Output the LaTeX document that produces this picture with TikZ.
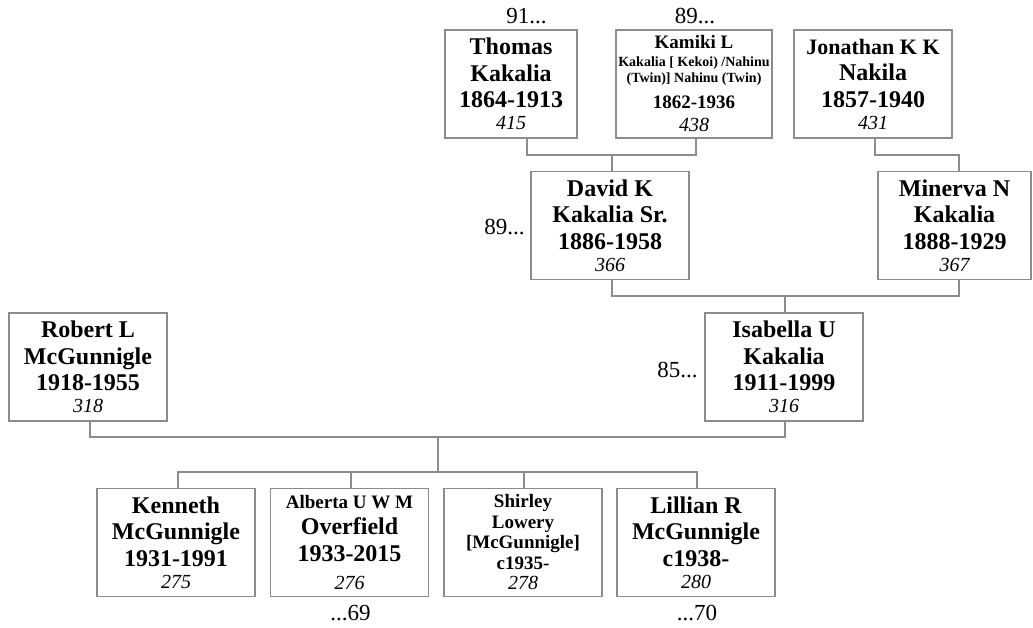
\documentclass[tikz,border=0pt]{standalone}
\usepackage{fontspec}
\setmainfont{Liberation Serif}
\definecolor{linegray}{RGB}{140,140,140}
\lineskiplimit=-100pt
\newcommand\refnum[1]{{\mdseries\itshape\fontsize{20}{22}\selectfont #1}}
\begin{document}
\begin{tikzpicture}[x=1pt,y=-1pt,
  box/.style={draw=linegray, line width=1.3pt, inner sep=0pt, minimum width=#1pt,
    minimum height=108pt, align=center, font=\bfseries\fontsize{24}{26.5}\selectfont},
  box/.default=158,
  conn/.style={draw=linegray, line width=1.3pt},
  lbl/.style={anchor=base, inner sep=0pt, font=\fontsize{23}{26}\selectfont}]
\useasboundingbox (0,0) rectangle (1033,628);

% generation 1
\node[box=132] (thomas) at (511,84) {Thomas\\Kakalia\\1864-1913\\[-4.5pt]\refnum{415}};
\node[box=156, font=\bfseries\fontsize{19}{20}\selectfont] (kamiki) at (694,84)
  {Kamiki L\\[-2pt]{\fontsize{14}{16}\selectfont Kakalia [ Kekoi) /Nahinu}\\[-4pt]{\fontsize{14}{16}\selectfont (Twin)] Nahinu (Twin)}\\[6pt]1862-1936\\[3pt]\refnum{438}};
\node[box] (jonathan) at (873,84) {{\fontsize{22}{26.5}\selectfont Jonathan K K}\\Nakila\\1857-1940\\[-4.5pt]\refnum{431}};

% generation 2
\node[box] (david) at (610,225.5) {David K\\Kakalia Sr.\\1886-1958\\[-4.5pt]\refnum{366}};
\node[box=153] (minerva) at (954.5,225.5) {Minerva N\\Kakalia\\1888-1929\\[-4.5pt]\refnum{367}};

% generation 3
\node[box] (robert) at (88,367) {Robert L\\McGunnigle\\1918-1955\\[-4.5pt]\refnum{318}};
\node[box] (isabella) at (784,367) {Isabella U\\Kakalia\\1911-1999\\[-4.5pt]\refnum{316}};

% generation 4
\node[box] (kenneth) at (176,542.5) {Kenneth\\McGunnigle\\1931-1991\\[-4.5pt]\refnum{275}};
\node[box] (alberta) at (349.5,542.5) {{\fontsize{19}{20}\selectfont Alberta U W M}\\Overfield\\1933-2015\\[1.5pt]\refnum{276}};
\node[box, font=\bfseries\fontsize{19}{20.5}\selectfont] (shirley) at (523,542.5)
  {Shirley\\Lowery\\{[McGunnigle]}\\c1935-\\\refnum{278}};
\node[box] (lillian) at (696,542.5) {Lillian R\\McGunnigle\\c1938-\\[-4.5pt]\refnum{280}};

% continuation labels
\node[lbl] (l91) at (526.5,24) {91...};
\node[lbl] (l89a) at (695,24) {89...};
\node[lbl] (l89b) at (504.5,235) {89...};
\node[lbl] (l85) at (677.5,377) {85...};
\node[lbl] (l69) at (350.5,620) {...69};
\node[lbl] (l70) at (697,620) {...70};

% connectors
\coordinate (tk) at (612,155);
\draw[conn] ([xshift=16pt]thomas.south) |- (tk) -| ([xshift=2pt]kamiki.south);
\draw[conn] (tk) -- (tk |- david.north);
\coordinate (jm) at (959,155);
\draw[conn] ([xshift=2pt]jonathan.south) |- (jm) -- (jm |- minerva.north);
\coordinate (dm) at (785,296);
\draw[conn] ([xshift=2pt]david.south) |- (dm) -| ([xshift=4.5pt]minerva.south);
\draw[conn] (dm) -- (dm |- isabella.north);
\coordinate (ri) at (438,437);
\draw[conn] ([xshift=2pt]robert.south) |- (ri) -| ([xshift=1pt]isabella.south);
\coordinate (cb) at (438,472);
\draw[conn] (ri) -- (cb);
\draw[conn] ([xshift=2pt]kenneth.north) |- (cb) -| ([xshift=1pt]lillian.north);
\draw[conn] ([xshift=1.5pt]alberta.north) -- ([xshift=1.5pt]alberta.north |- cb);
\draw[conn] ([xshift=1pt]shirley.north) -- ([xshift=1pt]shirley.north |- cb);
\end{tikzpicture}
\end{document}
